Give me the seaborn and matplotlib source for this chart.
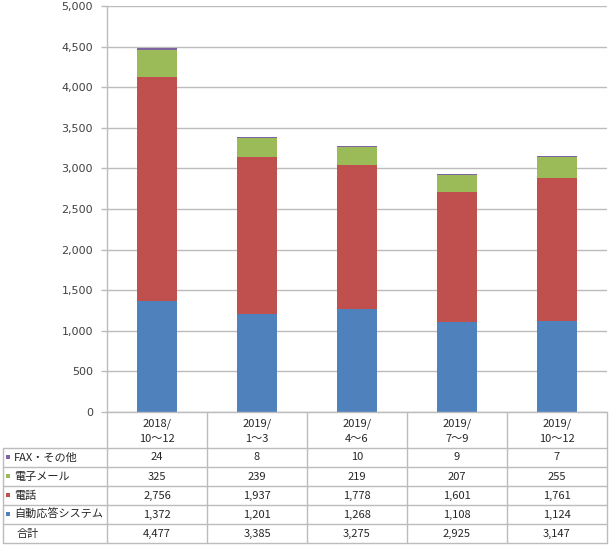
import numpy as np
import pandas as pd
import matplotlib
matplotlib.use('Agg')
import matplotlib.pyplot as plt
import seaborn as sns
from matplotlib.ticker import FuncFormatter
from matplotlib.patches import Rectangle

# ---- data ----
categories = ['2018/\n10～12', '2019/\n1～3', '2019/\n4～6', '2019/\n7～9', '2019/\n10～12']
fax_other = [24, 8, 10, 9, 7]
email = [325, 239, 219, 207, 255]
phone = [2756, 1937, 1778, 1601, 1761]
auto_resp = [1372, 1201, 1268, 1108, 1124]
totals = [4477, 3385, 3275, 2925, 3147]
series_names = ['FAX・その他', '電子メール', '電話', '自動応答システム']
total_label = '合計'
yticks = list(range(0, 5001, 500))

series_colors = ['#8064A2', '#9BBB59', '#C0504D', '#4F81BD']  # same order as series_names

sns.set_theme(style='white')
plt.rcParams['font.family'] = ['Noto Sans CJK JP', 'DejaVu Sans']

W, H = 610, 548
fig = plt.figure(figsize=(W / 100, H / 100), dpi=100)
L, R, T, B = 107, 607, 6, 412
ax = fig.add_axes([L / W, 1 - B / H, (R - L) / W, (B - T) / H])

# stacked bars: bottom -> top
layers = [auto_resp, phone, email, fax_other]
layer_colors = [series_colors[3], series_colors[2], series_colors[1], series_colors[0]]
cum = np.cumsum(np.array(layers), axis=0)
for i in range(len(layers) - 1, -1, -1):
    df = pd.DataFrame({'cat': categories, 'val': cum[i]})
    sns.barplot(data=df, x='cat', y='val', color=layer_colors[i], saturation=1,
                width=0.4, linewidth=0, ax=ax, zorder=2)

grid_c = '#bcbcbc'
ax.set_ylim(0, 5000)
ax.set_xlim(-0.5, len(categories) - 0.5)
ax.set_yticks(yticks)
ax.yaxis.set_major_formatter(FuncFormatter(lambda v, p: f'{int(v):,}'))
ax.yaxis.grid(True, color=grid_c, lw=1.0, zorder=0)
ax.set_axisbelow(True)
for s in ['top', 'right', 'bottom']:
    ax.spines[s].set_visible(False)
ax.spines['left'].set_color(grid_c)
ax.spines['left'].set_linewidth(1.0)
ax.tick_params(axis='y', left=True, length=4, width=1.0, color=grid_c,
               labelsize=8, labelcolor='#404040', pad=6)
for lab in ax.get_yticklabels():
    lab.set_fontfamily('DejaVu Sans')
ax.tick_params(axis='x', bottom=False, labelbottom=False)
ax.set_xlabel('')
ax.set_ylabel('')

# ---- data table ----
tax = fig.add_axes([0, 0, 1, 1])
tax.set_xlim(0, W)
tax.set_ylim(H, 0)
tax.axis('off')
tax.patch.set_alpha(0)

ncol = len(categories)
xs = [L + (R - L) * k / ncol for k in range(ncol + 1)]
rows_y = [448, 467, 486, 505, 524, 543]
x0 = 3
lc = grid_c
lw = 1.0
tc = '#262626'
fs = 8

tax.plot([L, R], [B, B], color=lc, lw=lw)
for x in xs:
    tax.plot([x, x], [B, rows_y[-1]], color=lc, lw=lw)
tax.plot([x0, x0], [rows_y[0], rows_y[-1]], color=lc, lw=lw)
for y in rows_y:
    tax.plot([x0, R], [y, y], color=lc, lw=lw)

for k, c in enumerate(categories):
    tax.text((xs[k] + xs[k + 1]) / 2, (B + rows_y[0]) / 2 + 1, c, ha='center', va='center',
             fontsize=fs, color=tc, linespacing=1.6)

row_labels = series_names + [total_label]
row_vals = [fax_other, email, phone, auto_resp, totals]
for r, (lab, vals) in enumerate(zip(row_labels, row_vals)):
    yc = (rows_y[r] + rows_y[r + 1]) / 2
    if r < len(series_names):
        tax.add_patch(Rectangle((6, yc - 3), 4, 4, color=series_colors[r], lw=0))
        tax.text(14, yc, lab, ha='left', va='center', fontsize=fs, color=tc)
    else:
        tax.text(17, yc, lab, ha='left', va='center', fontsize=fs, color=tc)
    for k, v in enumerate(vals):
        tax.text((xs[k] + xs[k + 1]) / 2, yc, f'{v:,}', ha='center', va='center',
                 fontsize=fs, color=tc)

fig.savefig('out.png', dpi=100)
